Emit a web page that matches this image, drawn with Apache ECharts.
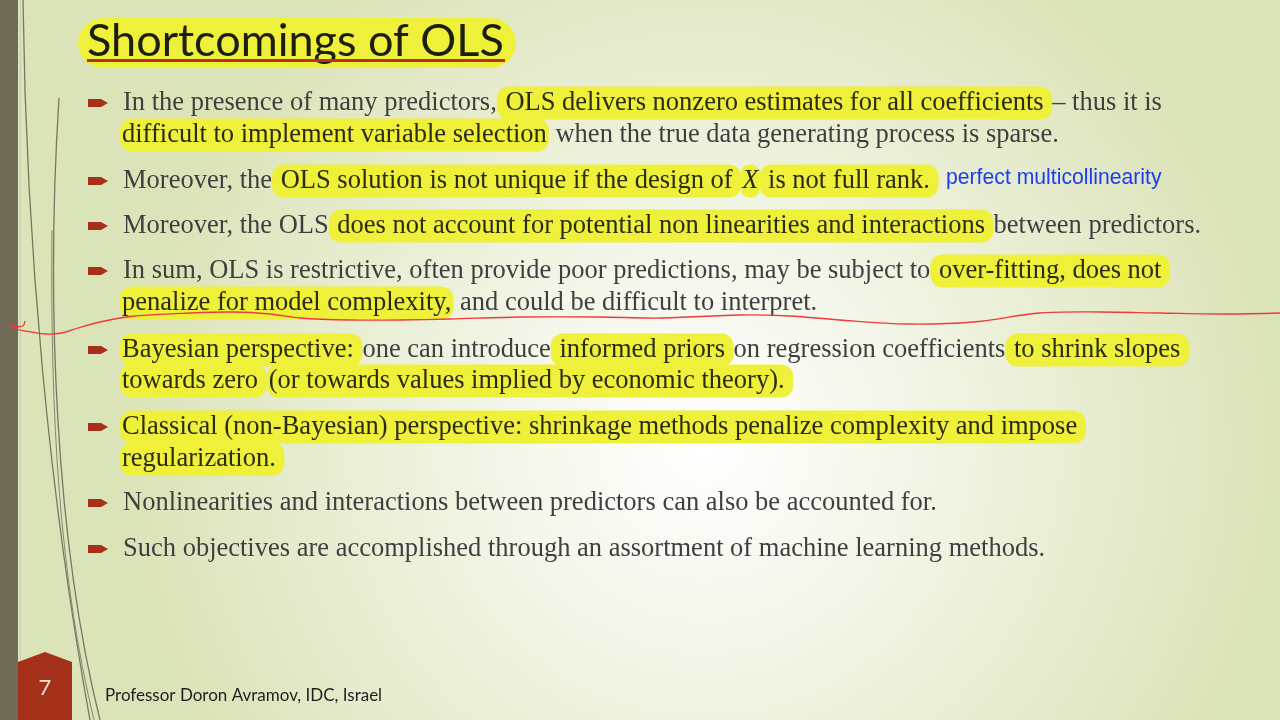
<!DOCTYPE html>
<html><head><meta charset="utf-8">
<script src="https://cdn.jsdelivr.net/npm/echarts@6/dist/echarts.min.js"></script>
<style>html,body{margin:0;padding:0;background:#fff}#c{width:1280px;height:720px}</style>
</head><body><div id="c"></div>
<script>
// Slide content (segments: [style, text]; n = plain, h = highlighted, hi = highlighted italic)
var titleText = "Shortcomings of OLS";
var footerText = "Professor Doron Avramov, IDC, Israel";
var pageNumber = "7";
var noteText = "perfect multicollinearity";

var bullet1 = [
  [["n","In the presence of many predictors,"],["h"," OLS delivers nonzero estimates for all coefficients "],["n","– thus it is"]],
  [["h","difficult to implement variable selection"],["n"," when the true data generating process is sparse."]]
];
var bullet2 = [
  [["n","Moreover, the"],["h"," OLS solution is not unique if the design of "],["hi","X"],["h"," is not full rank. "]]
];
var bullet3 = [
  [["n","Moreover, the OLS"],["h"," does not account for potential non linearities and interactions "],["n","between predictors."]]
];
var bullet4 = [
  [["n","In sum, OLS is restrictive, often provide poor predictions, may be subject to"],["h"," over-fitting, does not "]],
  [["h","penalize for model complexity,"],["n"," and could be difficult to interpret."]]
];
var bullet5 = [
  [["h","Bayesian perspective: "],["n","one can introduce"],["h"," informed priors "],["n","on regression coefficients"],["h"," to shrink slopes "]],
  [["h","towards zero "],["h","(or towards values implied by economic theory). "]]
];
var bullet6 = [
  [["h","Classical (non-Bayesian) perspective: shrinkage methods penalize complexity and impose "]],
  [["h","regularization. "]]
];
var bullet7 = [
  [["n","Nonlinearities and interactions between predictors can also be accounted for."]]
];
var bullet8 = [
  [["n","Such objectives are accomplished through an assortment of machine learning methods."]]
];
var bullets = [bullet1, bullet2, bullet3, bullet4, bullet5, bullet6, bullet7, bullet8];
var bulletRowY = [[103,135],[181],[226],[271,303],[350,381],[427,459],[503],[549]];

var annotationStroke = [[25,321],[23,326],[15,326],[9,323],[13,328],[25,331],[45,334],[62,333],[78,328],[100,322],[135,316],[190,313],[233,312],[270,314],[300,318],[350,320],[400,320],[450,319],[520,317],[600,317],[660,318],[740,315],[790,316],[840,320],[907,324],[973,322],[1040,313],[1100,312],[1160,313],[1230,314],[1280,313]];

var chart = echarts.init(document.getElementById('c'), null, {renderer:'canvas'});
var g = [];

// background
g.push({type:'rect', shape:{x:0,y:0,width:1280,height:720}, z:0,
  style:{fill:{type:'radial', x:0.55, y:0.62, r:0.8, colorStops:[
    {offset:0,color:'#ffffff'},{offset:0.35,color:'#f3f6e8'},{offset:1,color:'#dbe3b8'}]}}});
// left band
g.push({type:'rect', shape:{x:0,y:0,width:18,height:720}, z:1, style:{fill:'#706b56'}});
g.push({type:'line', shape:{x1:20.5,y1:0,x2:20.5,y2:720}, z:1, style:{stroke:'#c8ccb0',lineWidth:1}});
// decorative curves
var curveStyle = {stroke:'#7b7662', lineWidth:1.3, fill:null};
g.push({type:'bezierCurve', z:2, shape:{x1:23,y1:0,cpx1:26,cpy1:250,cpx2:50,cpy2:500,x2:90,y2:720}, style:curveStyle});
g.push({type:'bezierCurve', z:2, shape:{x1:59,y1:98,cpx1:46,cpy1:300,cpx2:55,cpy2:540,x2:100,y2:720}, style:curveStyle});
g.push({type:'bezierCurve', z:2, shape:{x1:52,y1:230,cpx1:50,cpy1:420,cpx2:60,cpy2:580,x2:94,y2:720}, style:{stroke:'#8a8570',lineWidth:1,fill:null}});

// title
g.push({type:'rect', z:3, shape:{x:78,y:18,width:438,height:50,r:25}, style:{fill:'#eef03a'}});
g.push({type:'text', z:4, x:87, y:41, style:{text:titleText, fontFamily:'Lato', fontSize:45, fill:'#1e1e10', verticalAlign:'middle'}});
g.push({type:'rect', z:4, shape:{x:87,y:59,width:418,height:3}, style:{fill:'#b8301c'}});

// bullets
var FS = 26.5;
var richStyles = {
  n:{fill:'#3f3f3f', fontFamily:'Liberation Serif', fontSize:FS},
  h:{fill:'#2b2b12', fontFamily:'Liberation Serif', fontSize:FS, backgroundColor:'#eef03a', borderRadius:12, padding:[3,2]},
  hi:{fill:'#2b2b12', fontFamily:'Liberation Serif', fontStyle:'italic', fontSize:FS, backgroundColor:'#eef03a', borderRadius:8, padding:[3,1]}
};
bullets.forEach(function(b, bi){
  var ys = bulletRowY[bi];
  g.push({type:'polygon', z:3, shape:{points:[[88,ys[0]-4],[101,ys[0]-4],[108,ys[0]],[101,ys[0]+4],[88,ys[0]+4]]}, style:{fill:'#a8301a'}});
  b.forEach(function(line, li){
    var str = line.map(function(s){ return '{'+s[0]+'|'+s[1]+'}'; }).join('');
    var x0 = line[0][0] === 'n' ? 123 : 120;
    g.push({type:'text', z:4, x:x0, y:ys[li], style:{text:str, rich:richStyles, verticalAlign:'middle', fontFamily:'Liberation Serif', fontSize:FS}});
  });
});

// blue note
g.push({type:'text', z:4, x:946, y:178, style:{text:noteText, fontFamily:'Liberation Sans', fontSize:21.2, fill:'#1a3cf5', verticalAlign:'middle'}});

// red handwritten annotation
g.push({type:'polyline', z:5, shape:{points:annotationStroke, smooth:0.3}, style:{stroke:'#f03a3a', lineWidth:1.3, fill:null}});

// page badge
g.push({type:'polygon', z:3, shape:{points:[[18,662],[45,652],[72,662],[72,720],[18,720]]}, style:{fill:'#a5311a'}});
g.push({type:'text', z:4, x:45, y:688, style:{text:pageNumber, fontFamily:'Lato', fontSize:22, fill:'#f3e6da', align:'center', verticalAlign:'middle'}});
// footer
g.push({type:'text', z:4, x:105, y:696, style:{text:footerText, fontFamily:'Lato', fontSize:17, fill:'#1e1e1e', verticalAlign:'middle'}});

chart.setOption({animation:false, graphic:g});
</script></body></html>
